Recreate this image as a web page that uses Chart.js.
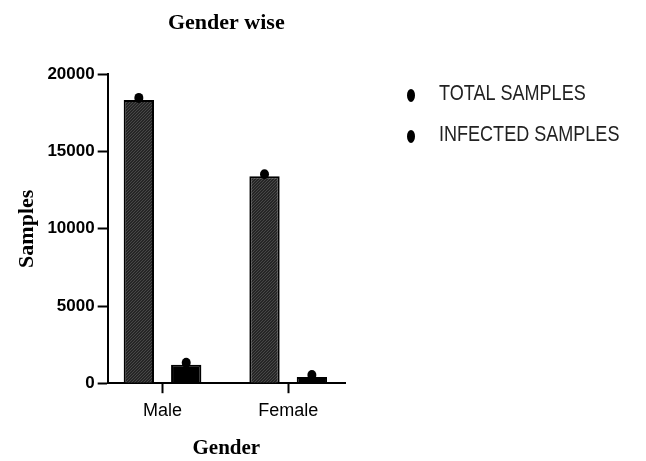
<!DOCTYPE html>
<html>
<head>
<meta charset="utf-8">
<script src="https://cdn.jsdelivr.net/npm/chart.js@4.4.1/dist/chart.umd.min.js"></script>
<style>
  html, body { margin: 0; padding: 0; background: #fff; }
  #wrap { position: relative; width: 646px; height: 461px; }
</style>
</head>
<body>
<div id="wrap"><canvas id="c" width="646" height="461"></canvas></div>
<script>
const categories = ['Male', 'Female'];
const categoryPositions = [0, 1];
const seriesLabels = ['TOTAL SAMPLES', 'INFECTED SAMPLES'];
const totalSamples = [18350, 13400];
const infectedSamples = [1200, 400];
const yTicks = [0, 5000, 10000, 15000, 20000];

function makePattern() {
  const c = document.createElement('canvas');
  c.width = 3; c.height = 3;
  const g = c.getContext('2d');
  g.fillStyle = '#262626'; g.fillRect(0, 0, 3, 3);
  g.fillStyle = '#484848'; g.fillRect(0, 0, 1, 1); g.fillRect(2, 1, 1, 1); g.fillRect(1, 2, 1, 1);
  return g.createPattern(c, 'repeat');
}

const sans = "'Liberation Sans', Arial, sans-serif";
const serif = "'Liberation Serif', 'Times New Roman', serif";

const topDots = {
  id: 'topDots',
  afterDatasetsDraw(chart) {
    const ctx = chart.ctx;
    ctx.save();
    ctx.fillStyle = '#000';
    chart.data.datasets.forEach((ds, i) => {
      const meta = chart.getDatasetMeta(i);
      meta.data.forEach(el => {
        ctx.beginPath();
        ctx.ellipse(el.x, el.y - 2, 4.5, 5, 0, 0, Math.PI * 2);
        ctx.fill();
      });
    });
    ctx.restore();
  }
};

const sideLegend = {
  id: 'sideLegend',
  afterDraw(chart) {
    const ctx = chart.ctx;
    const a = chart.chartArea;
    ctx.save();
    chart.data.datasets.forEach((ds, i) => {
      const y = a.top + 21 + i * 41;
      const x = a.right + 66;
      ctx.fillStyle = '#000';
      ctx.beginPath();
      ctx.ellipse(x, y, 4, 6.5, 0, 0, Math.PI * 2);
      ctx.fill();
      ctx.save();
      ctx.translate(x + 28, y - 1);
      ctx.scale(0.82, 1);
      ctx.fillStyle = '#222';
      ctx.font = "22px " + sans;
      ctx.textBaseline = 'middle';
      ctx.textAlign = 'left';
      ctx.fillText(ds.label, 0, 0);
      ctx.restore();
    });
    ctx.restore();
  }
};

const pattern = makePattern();

new Chart(document.getElementById('c'), {
  type: 'bar',
  data: {
    datasets: [
      {
        label: seriesLabels[0],
        data: categoryPositions.map((x, i) => ({ x, y: totalSamples[i] })),
        backgroundColor: pattern,
        borderColor: '#000',
        borderWidth: 2,
        borderSkipped: 'bottom'
      },
      {
        label: seriesLabels[1],
        data: categoryPositions.map((x, i) => ({ x, y: infectedSamples[i] })),
        backgroundColor: '#000',
        borderColor: '#000',
        borderWidth: 2,
        borderSkipped: 'bottom'
      }
    ]
  },
  plugins: [topDots, sideLegend],
  options: {
    responsive: false,
    animation: false,
    devicePixelRatio: 1,
    categoryPercentage: 0.754,
    barPercentage: 0.64,
    layout: { padding: { left: 10, right: 301, top: 0, bottom: 0 } },
    plugins: {
      legend: { display: false },
      tooltip: { enabled: false },
      title: {
        display: true,
        text: 'Gender wise',
        fullSize: false,
        color: '#000',
        font: { family: serif, size: 22, weight: 'bold' },
        padding: { top: 10, bottom: 38 }
      }
    },
    scales: {
      x: {
        type: 'linear',
        min: -0.4365,
        max: 1.452,
        offset: false,
        afterBuildTicks(scale) { scale.ticks = categoryPositions.map(v => ({ value: v })); },
        ticks: {
          autoSkip: false,
          color: '#000',
          padding: 7,
          font: { family: sans, size: 18 },
          callback: (v) => categories[categoryPositions.indexOf(v)]
        },
        grid: { drawOnChartArea: false, drawTicks: true, tickLength: 10, tickColor: '#000', tickWidth: 2, offset: false },
        border: { display: true, color: '#000', width: 2 },
        title: {
          display: true,
          text: 'Gender',
          color: '#000',
          font: { family: serif, size: 21, weight: 'bold' },
          padding: { top: 7, bottom: 0 }
        }
      },
      y: {
        min: 0,
        max: 20000,
        afterBuildTicks(scale) { scale.ticks = yTicks.map(v => ({ value: v })); },
        ticks: {
          color: '#000',
          padding: 3,
          font: { family: sans, size: 17, weight: 'bold' },
          callback: (v) => String(v)
        },
        grid: { drawOnChartArea: false, drawTicks: true, tickLength: 10, tickColor: '#000', tickWidth: 2 },
        border: { display: true, color: '#000', width: 2 },
        title: {
          display: true,
          text: 'Samples',
          color: '#000',
          font: { family: serif, size: 22, weight: 'bold' },
          padding: { top: 4, bottom: 4 }
        }
      }
    }
  }
});
</script>
</body>
</html>
